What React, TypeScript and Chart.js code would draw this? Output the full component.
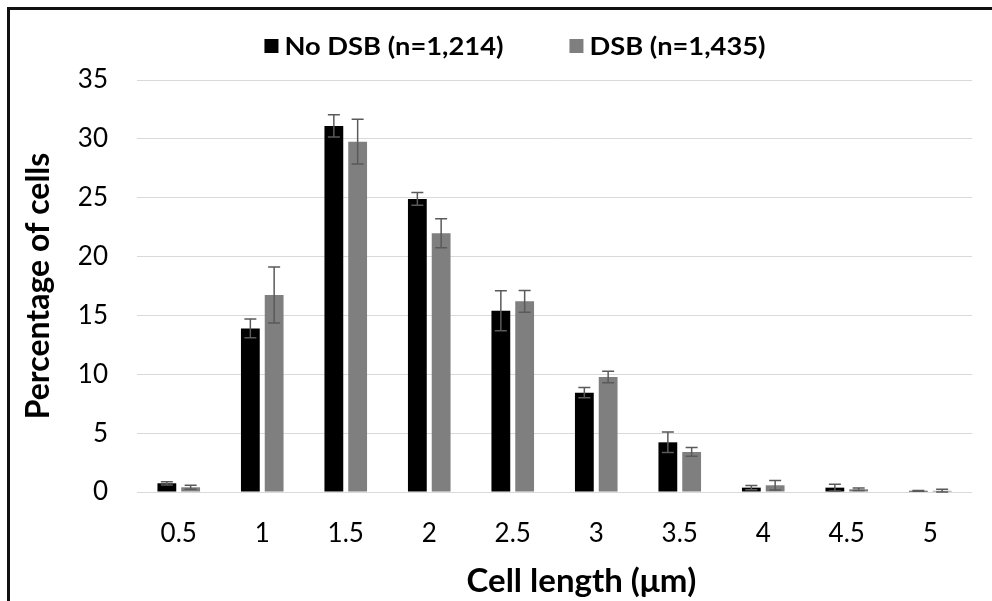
import React, { useEffect, useRef } from "react";
import { Chart, registerables } from "chart.js";

Chart.register(...registerables);

// ---- data ----
const categories = ["0.5", "1", "1.5", "2", "2.5", "3", "3.5", "4", "4.5", "5"];
const seriesLabels = ["No DSB (n=1,214)", "DSB (n=1,435)"];
const noDsbValues = [0.74, 13.9, 31.1, 24.9, 15.4, 8.44, 4.22, 0.37, 0.37, 0.1];
const noDsbErrors = [0.14, 0.79, 0.95, 0.55, 1.7, 0.43, 0.87, 0.18, 0.28, 0.03];
const dsbValues = [0.4, 16.74, 29.76, 21.98, 16.2, 9.77, 3.4, 0.57, 0.23, 0.1];
const dsbErrors = [0.17, 2.38, 1.9, 1.23, 0.92, 0.48, 0.37, 0.4, 0.11, 0.13];
const yMin = 0;
const yMax = 35;
const yStep = 5;
const xTitle = "Cell length (μm)";
const yTitle = "Percentage of cells";

const FONT = "Lato, 'Open Sans', sans-serif";
const seriesColors = ["#000000", "#7f7f7f"];
const seriesErrors = [noDsbErrors, dsbErrors];

const errorBarPlugin = {
  id: "errorBars",
  afterDatasetsDraw(chart: any) {
    const { ctx } = chart;
    const yScale = chart.scales.y;
    chart.data.datasets.forEach((ds: any, di: number) => {
      const meta = chart.getDatasetMeta(di);
      const errs = seriesErrors[di];
      ctx.save();
      ctx.strokeStyle = "#5a5a5a";
      ctx.lineWidth = 1.5;
      meta.data.forEach((bar: any, i: number) => {
        const v = ds.data[i];
        const e = errs[i];
        const x = bar.x;
        const yt = yScale.getPixelForValue(v + e);
        const yb = yScale.getPixelForValue(Math.max(0, v - e));
        ctx.beginPath();
        ctx.moveTo(x, yt);
        ctx.lineTo(x, yb);
        ctx.moveTo(x - 6, yt);
        ctx.lineTo(x + 6, yt);
        ctx.moveTo(x - 6, yb);
        ctx.lineTo(x + 6, yb);
        ctx.stroke();
      });
      ctx.restore();
    });
  },
};

const legendPlugin = {
  id: "topLegend",
  afterDraw(chart: any) {
    const ctx = chart.ctx;
    ctx.save();
    ctx.font = `bold 24px ${FONT}`;
    const items = chart.data.datasets.map((ds: any) => ({
      text: ds.label as string,
      color: ds.backgroundColor as string,
    }));
    const sx = 219 / ctx.measureText(items[0].text).width;
    const box = 14;
    const gap = 6;
    const itemGap = 66;
    const widths = items.map((it: any) => ctx.measureText(it.text).width * sx);
    const total =
      items.reduce((s: number, _it: any, i: number) => s + box + gap + widths[i], 0) +
      itemGap * (items.length - 1);
    let x = 515 - total / 2;
    const yMid = 47;
    items.forEach((it: any, i: number) => {
      ctx.fillStyle = it.color;
      ctx.fillRect(x, yMid - box / 2 - 1, box, box);
      x += box + gap;
      ctx.save();
      ctx.translate(x, yMid);
      ctx.scale(sx, 1);
      ctx.fillStyle = "#000";
      ctx.textBaseline = "middle";
      ctx.textAlign = "left";
      ctx.fillText(it.text, 0, 0);
      ctx.restore();
      x += widths[i] + itemGap;
    });
    ctx.restore();
  },
};

// x-axis title drawn slightly right of the plot centre, as in the reference
const xTitlePlugin = {
  id: "xTitle",
  afterDraw(chart: any) {
    const ctx = chart.ctx;
    const area = chart.chartArea;
    ctx.save();
    ctx.font = `bold 33px ${FONT}`;
    ctx.fillStyle = "#000";
    ctx.textAlign = "center";
    ctx.textBaseline = "middle";
    ctx.fillText(xTitle, (area.left + area.right) / 2 + 27, 581);
    ctx.restore();
  },
};

export default function App() {
  const canvasRef = useRef<HTMLCanvasElement | null>(null);

  useEffect(() => {
    if (!canvasRef.current) return;
    const chart = new Chart(canvasRef.current, {
      type: "bar",
      data: {
        labels: categories,
        datasets: [
          {
            label: seriesLabels[0],
            data: noDsbValues,
            backgroundColor: seriesColors[0],
            borderWidth: 0,
            categoryPercentage: 0.57,
            barPercentage: 0.79,
          },
          {
            label: seriesLabels[1],
            data: dsbValues,
            backgroundColor: seriesColors[1],
            borderWidth: 0,
            categoryPercentage: 0.57,
            barPercentage: 0.79,
          },
        ],
      },
      options: {
        responsive: false,
        animation: false,
        layout: { padding: { top: 80, left: 10, right: 20, bottom: 0 } },
        plugins: {
          legend: { display: false },
          tooltip: { enabled: false },
        },
        scales: {
          x: {
            type: "category",
            grid: { display: false, drawTicks: false },
            border: { display: false },
            ticks: {
              color: "#000",
              font: { family: FONT, size: 26 },
              padding: 26,
            },
            title: { display: false },
            afterFit(scale: any) {
              scale.height = 109;
            },
          },
          y: {
            min: yMin,
            max: yMax,
            grid: { color: "#d9d9d9", lineWidth: 1, drawTicks: false },
            border: { display: false },
            ticks: {
              stepSize: yStep,
              color: "#000",
              font: { family: FONT, size: 26 },
              padding: 29,
            },
            title: {
              display: true,
              text: yTitle,
              color: "#000",
              font: { family: FONT, size: 32, weight: "bold" },
              padding: { top: 9, bottom: 0 },
            },
            afterFit(scale: any) {
              scale.width = 127;
            },
          },
        },
      },
      plugins: [errorBarPlugin, legendPlugin, xTitlePlugin],
    });
    return () => chart.destroy();
  }, []);

  return (
    <div style={{ position: "fixed", left: 0, top: 0, width: 992, height: 601, background: "#fff" }}>
      <canvas
        ref={canvasRef}
        width={992}
        height={601}
        style={{ display: "block", width: 992, height: 601 }}
      />
      <div
        style={{
          position: "absolute",
          left: 7,
          top: 7,
          right: 0,
          bottom: 0,
          borderTop: "3px solid #111",
          borderLeft: "3px solid #111",
          pointerEvents: "none",
        }}
      />
    </div>
  );
}
